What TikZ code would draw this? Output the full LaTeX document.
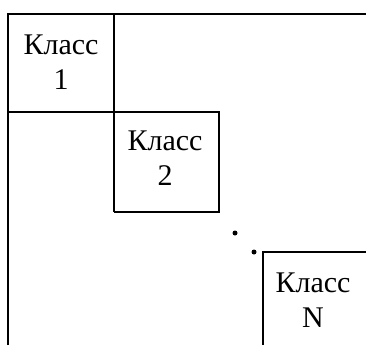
\documentclass[tikz,border=0pt]{standalone}
\usepackage{fontspec}
\setmainfont{Liberation Serif}
\begin{document}
\begin{tikzpicture}[x=1pt,y=-1pt,line width=1.9pt,
  cls/.style={align=center,font=\fontsize{30}{35}\selectfont,inner sep=0pt},
  dotmark/.style={fill=black,circle,inner sep=0pt,minimum size=5pt,draw=none}]
\useasboundingbox (0,0) rectangle (366,345);
% outer frame of the block matrix
\draw (8,345) -- (8,14) -- (366,14);
% blocks of classes 1 and 2
\draw (114,14) -- (114,212);
\draw (8,112) -- (219,112) -- (219,212) -- (114,212);
% block of class N
\draw (263,345) -- (263,252) -- (366,252);
% ellipsis dots
\node[dotmark] (d1) at (235,233) {};
\node[dotmark] (d2) at (254,252) {};
% class labels
\node[cls] (c1) at (61,62) {Класс\\1};
\node[cls] (c2) at (165,158) {Класс\\2};
\node[cls] (cn) at (313,300) {Класс\\N};
\end{tikzpicture}
\end{document}
